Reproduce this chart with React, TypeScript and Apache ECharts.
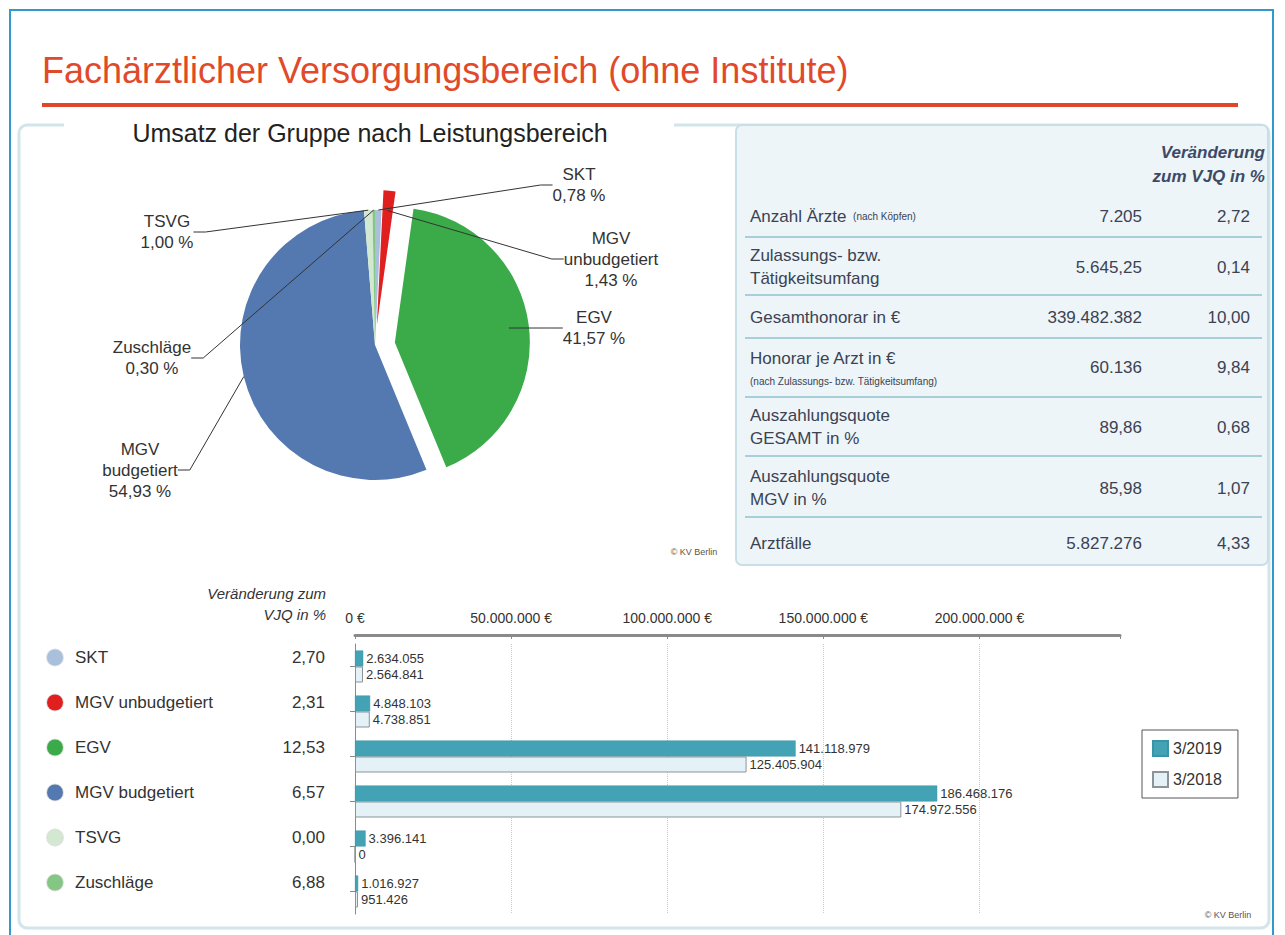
import React, { useEffect, useRef } from "react";
import * as echarts from "echarts";

// ---------- data ----------
const categories = ["SKT", "MGV unbudgetiert", "EGV", "MGV budgetiert", "TSVG", "Zuschläge"];
const pieShares = [0.78, 1.43, 41.57, 54.93, 1.0, 0.3];
const changeVJQ = [2.7, 2.31, 12.53, 6.57, 0.0, 6.88];
const seriesNames = ["3/2019", "3/2018"];
const values2019 = [2634055, 4848103, 141118979, 186468176, 3396141, 1016927];
const values2018 = [2564841, 4738851, 125405904, 174972556, 0, 951426];
const explodedSlices = ["MGV unbudgetiert", "EGV"];

const tableLabels = [
  "Anzahl Ärzte",
  "Zulassungs- bzw.\nTätigkeitsumfang",
  "Gesamthonorar in €",
  "Honorar je Arzt in €",
  "Auszahlungsquote\nGESAMT in %",
  "Auszahlungsquote\nMGV in %",
  "Arztfälle",
];
const tableNotes = ["(nach Köpfen)", "", "", "(nach Zulassungs- bzw. Tätigkeitsumfang)", "", "", ""];
const tableValues = ["7.205", "5.645,25", "339.482.382", "60.136", "89,86", "85,98", "5.827.276"];
const tableChanges = ["2,72", "0,14", "10,00", "9,84", "0,68", "1,07", "4,33"];

// ---------- styling / layout ----------
const FONT = "'Liberation Sans', Arial, Helvetica, sans-serif";
const catColors = ["#a9bfdc", "#e01f1f", "#3bab4a", "#5479b0", "#d3e8d0", "#84c683"];
const barColors = ["#43a3b5", "#e4f1f7"];
const pieLabelPos = [
  [579, 185],
  [611, 259],
  [594, 328],
  [140, 470],
  [167, 232],
  [152, 358],
];
const rowCenters = [216, 267, 317, 367, 427, 488, 543];
const rowSeparators = [237, 295, 338, 397, 456, 517];

const fmtInt = (n: number) => String(Math.round(n)).replace(/\B(?=(\d{3})+(?!\d))/g, ".");
const fmtDec = (n: number) => n.toFixed(2).replace(".", ",");

function buildGraphic() {
  const g: any[] = [];
  g.push({
    type: "rect",
    shape: { x: 10, y: 10, width: 1263, height: 950 },
    style: { fill: "none", stroke: "#3399cc", lineWidth: 2 },
    silent: true,
  });
  g.push({
    type: "text",
    x: 42,
    y: 70,
    style: {
      text: "Fachärztlicher Versorgungsbereich (ohne Institute)",
      fontSize: 36,
      fontFamily: FONT,
      fill: "#e04a2a",
      verticalAlign: "middle",
      align: "left",
    },
  });
  g.push({
    type: "rect",
    shape: { x: 42, y: 103, width: 1196, height: 4 },
    style: { fill: "#e0462a" },
  });
  g.push({
    type: "rect",
    shape: { x: 19, y: 125, width: 1250, height: 803, r: 8 },
    style: { fill: "none", stroke: "#d2e5eb", lineWidth: 3 },
  });
  g.push({
    type: "rect",
    shape: { x: 64, y: 118, width: 610, height: 14 },
    style: { fill: "#ffffff" },
  });
  g.push({
    type: "text",
    x: 370,
    y: 133,
    style: {
      text: "Umsatz der Gruppe nach Leistungsbereich",
      fontSize: 25,
      fontFamily: FONT,
      fill: "#222",
      align: "center",
      verticalAlign: "middle",
    },
  });
  g.push({
    type: "rect",
    shape: { x: 736, y: 125, width: 532, height: 440, r: 6 },
    style: { fill: "#edf5f9", stroke: "#c9dfe6", lineWidth: 2 },
  });
  g.push({
    type: "text",
    x: 1265,
    y: 164,
    style: {
      text: "Veränderung\nzum VJQ in %",
      fontSize: 17,
      lineHeight: 24,
      fontWeight: "bold",
      fontStyle: "italic",
      fontFamily: FONT,
      fill: "#3d4a66",
      align: "right",
      verticalAlign: "middle",
    },
  });
  rowSeparators.forEach((y) => {
    g.push({
      type: "line",
      shape: { x1: 745, y1: y, x2: 1262, y2: y },
      style: { stroke: "#a6cfd8", lineWidth: 2 },
    });
  });
  rowCenters.forEach((cy, i) => {
    const base = { fontFamily: FONT, fill: "#3c4252", verticalAlign: "middle" };
    if (i === 0) {
      g.push({
        type: "text",
        x: 750,
        y: cy,
        style: {
          ...base,
          text: `{a|${tableLabels[i]}}  {s|${tableNotes[i]}}`,
          align: "left",
          rich: {
            a: { fontSize: 17, fontFamily: FONT, fill: "#3c4252" },
            s: { fontSize: 10, fontFamily: FONT, fill: "#3c4252" },
          },
        },
      });
    } else if (tableNotes[i]) {
      g.push({
        type: "text",
        x: 750,
        y: cy - 9,
        style: { ...base, text: tableLabels[i], fontSize: 17, align: "left" },
      });
      g.push({
        type: "text",
        x: 750,
        y: cy + 14,
        style: { ...base, text: tableNotes[i], fontSize: 10, align: "left" },
      });
    } else {
      g.push({
        type: "text",
        x: 750,
        y: cy,
        style: { ...base, text: tableLabels[i], fontSize: 17, lineHeight: 23, align: "left" },
      });
    }
    g.push({
      type: "text",
      x: 1142,
      y: cy,
      style: { ...base, text: tableValues[i], fontSize: 17, align: "right" },
    });
    g.push({
      type: "text",
      x: 1250,
      y: cy,
      style: { ...base, text: tableChanges[i], fontSize: 17, align: "right" },
    });
  });
  [
    [694, 552],
    [1228, 915],
  ].forEach(([x, y]) => {
    g.push({
      type: "text",
      x,
      y,
      style: {
        text: "© KV Berlin",
        fontSize: 9,
        fontFamily: FONT,
        fill: "#555",
        align: "center",
        verticalAlign: "middle",
      },
    });
  });
  g.push({
    type: "text",
    x: 326,
    y: 604,
    style: {
      text: "Veränderung zum\nVJQ in %",
      fontSize: 15,
      lineHeight: 21,
      fontStyle: "italic",
      fontFamily: FONT,
      fill: "#333",
      align: "right",
      verticalAlign: "middle",
    },
  });
  return g;
}

function buildOption() {
  const rich: any = {
    n: { padding: [0, 0, 0, 12], fontSize: 17, fontFamily: FONT, color: "#333" },
  };
  catColors.forEach((c, i) => {
    rich["c" + i] = {
      width: 16,
      height: 16,
      borderRadius: 8,
      backgroundColor: c,
      borderColor: "rgba(0,0,0,0.12)",
      borderWidth: 1,
    };
  });

  const pieCommon = {
    type: "pie",
    center: [375, 345],
    radius: 135,
    startAngle: 90,
    clockwise: true,
    avoidLabelOverlap: false,
    emphasis: { disabled: true },
  };

  return {
    animation: false,
    backgroundColor: "#ffffff",
    textStyle: { fontFamily: FONT },
    graphic: buildGraphic(),
    legend: {
      data: seriesNames,
      orient: "vertical",
      left: 1142,
      top: 730,
      padding: [10, 16, 10, 10],
      itemGap: 14,
      itemWidth: 15,
      itemHeight: 15,
      icon: "rect",
      borderColor: "#555",
      borderWidth: 1,
      textStyle: { fontSize: 16, color: "#333", fontFamily: FONT },
      selectedMode: false,
    },
    grid: { left: 355, top: 644, width: 765, height: 270, containLabel: false },
    xAxis: {
      type: "value",
      position: "top",
      offset: 9,
      min: 0,
      max: 245000000,
      interval: 50000000,
      axisLine: { show: true, lineStyle: { color: "#8a8a8a", width: 3 } },
      axisTick: { show: true, inside: true, length: 4, lineStyle: { color: "#8a8a8a" } },
      axisLabel: {
        fontSize: 14,
        color: "#333",
        margin: 10,
        fontFamily: FONT,
        formatter: (v: number) => (v % 50000000 === 0 ? fmtInt(v) + " €" : ""),
      },
      splitLine: {
        show: true,
        showMaxLine: false,
        showMinLine: false,
        lineStyle: { type: "dotted", color: "#c8c8c8" },
      },
    },
    yAxis: [
      {
        type: "category",
        inverse: true,
        data: categories,
        axisLine: { show: true, lineStyle: { color: "#8a8a8a", width: 1 } },
        axisTick: { show: true, alignWithLabel: true, length: 5, lineStyle: { color: "#8a8a8a" } },
        axisLabel: {
          margin: 30,
          padding: [0, 0, 18, 0],
          formatter: (_v: string, i: number) => `{v|${fmtDec(changeVJQ[i])}}`,
          rich: { v: { fontSize: 17, color: "#333", fontFamily: FONT } },
        },
      },
      {
        type: "category",
        inverse: true,
        position: "left",
        offset: 308,
        data: categories,
        axisLine: { show: false },
        axisTick: { show: false },
        axisLabel: {
          inside: true,
          margin: 0,
          align: "left",
          padding: [0, 0, 18, 0],
          formatter: (v: string, i: number) => `{c${i}| }{n|${v}}`,
          rich,
        },
      },
    ],
    series: [
      {
        ...pieCommon,
        selectedMode: "multiple",
        selectedOffset: 20,
        data: categories.map((name, i) => ({
          name,
          value: pieShares[i],
          selected: explodedSlices.includes(name),
          itemStyle: { color: catColors[i] },
        })),
        label: { show: false },
        labelLine: { show: false },
        select: { label: { show: false }, labelLine: { show: false } },
      },
      {
        ...pieCommon,
        z: 3,
        silent: true,
        selectedMode: false,
        data: categories.map((name, i) => ({
          name,
          value: pieShares[i],
          itemStyle: { color: "rgba(0,0,0,0)" },
        })),
        label: {
          show: true,
          fontSize: 17,
          lineHeight: 21,
          color: "#333",
          fontFamily: FONT,
          align: "center",
          formatter: (p: any) => p.name.replace(" ", "\n") + "\n" + fmtDec(p.value) + " %",
        },
        labelLine: { show: true, length: 12, length2: 12, lineStyle: { color: "#333", width: 1 } },
        labelLayout: (p: any) => ({
          x: pieLabelPos[p.dataIndex][0],
          y: pieLabelPos[p.dataIndex][1],
          align: "center",
          verticalAlign: "middle",
        }),
      },
      {
        type: "bar",
        name: seriesNames[0],
        data: values2019,
        yAxisIndex: 0,
        barWidth: 16,
        barGap: "0%",
        itemStyle: { color: barColors[0], borderColor: "#3a94a6", borderWidth: 0.5 },
        label: {
          show: true,
          position: "right",
          distance: 3,
          fontSize: 13,
          color: "#333",
          fontFamily: FONT,
          formatter: (p: any) => fmtInt(p.value),
        },
        emphasis: { disabled: true },
      },
      {
        type: "bar",
        name: seriesNames[1],
        data: values2018,
        yAxisIndex: 0,
        barWidth: 16,
        barGap: "0%",
        itemStyle: { color: barColors[1], borderColor: "#8c9499", borderWidth: 1 },
        label: {
          show: true,
          position: "right",
          distance: 3,
          fontSize: 13,
          color: "#333",
          fontFamily: FONT,
          formatter: (p: any) => fmtInt(p.value),
        },
        emphasis: { disabled: true },
      },
    ],
  };
}

export default function App() {
  const ref = useRef<HTMLDivElement>(null);
  useEffect(() => {
    const chart = echarts.init(ref.current!, null, { renderer: "svg" });
    chart.setOption(buildOption() as any);
    return () => chart.dispose();
  }, []);
  return (
    <div
      ref={ref}
      style={{ position: "absolute", left: 0, top: 0, width: 1285, height: 935, background: "#fff" }}
    />
  );
}
